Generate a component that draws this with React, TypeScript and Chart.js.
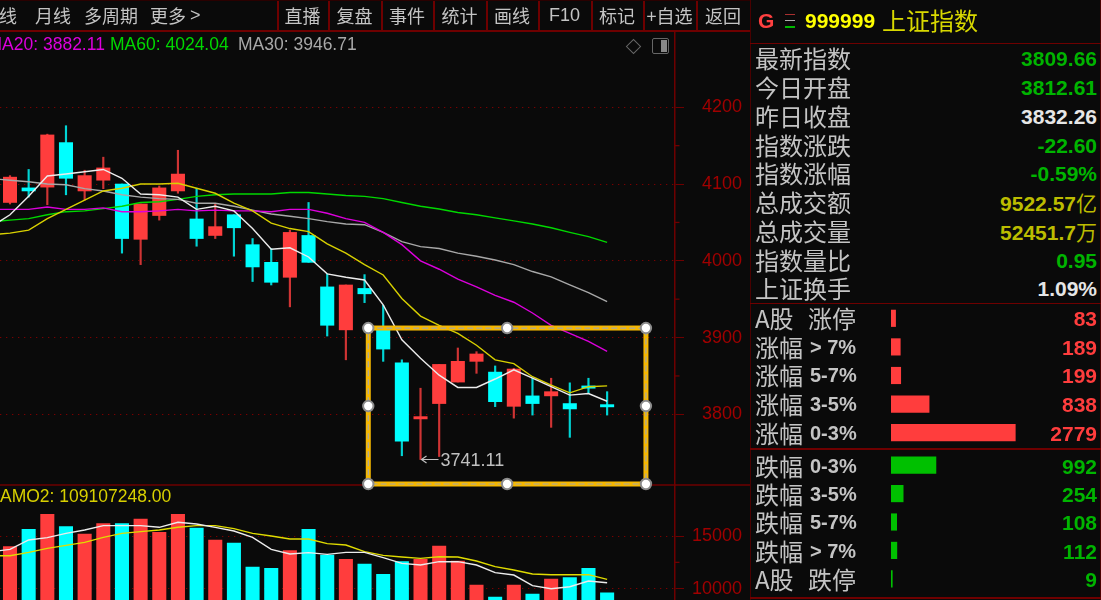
import React, { useEffect, useRef } from "react";
import { Chart, registerables } from "chart.js";

Chart.register(...registerables);

const opens = [4076,4095,4096,4154,4091,4105,4100,4028,4059,4091,4054.5,4033,4060,4021,3998,3978.5,4033,3966,3910,3964,3910,3867,3794,3814,3842,3869,3855,3810.4,3824,3824,3814,3837,3812.61];
const closes = [4109,4091,4164,4107.5,4111,4121,4029,4074,4095,4113,4029,4044.5,4043,3992,3972,4037,3998,3916,3968.5,3957,3885,3765,3797,3865,3869,3878.6,3816.5,3859,3814,3829.5,3807,3834,3809.66];
const highs = [4111,4119,4165,4176,4118,4135,4100,4074,4097.5,4144,4094.5,4074,4060,4029,4016,4040,4076,3983,3968.5,3982,3942,3871,3834,3865,3886.4,3881.6,3863,3860,3847,3847,3841,3847,3829.5];
const lows = [4074,4083,4073,4086,4079,4094,4010,3995,4053,4088,4019,4029,4006,3973,3968.5,3940,3998,3902,3871,3945.5,3869,3746,3741.11,3745,3842,3853.4,3810,3795,3799,3783,3770,3827,3799];
const volumes = [13988,15634,17058,15887,15190,16172,16172,16615,15349,17058,15760,14621,14336,12057,11930,13608,15634,13197,12785,12342,11361,12564,12785,14051,12627,10348,9209,10348,9494,10918,11044,11930,9620];

// moving averages: the first value belongs to the session just left of the window
const ma5 = [4044.5,4060,4084,4110.5,4113,4116,4119,4107.5,4087,4086,4083,4067,4071,4065,4042,4015,4017,4005,3983,3978.5,3975,3942.5,3897,3873,3851,3835,3835,3846,3858,3847,3836,3825,3827,3817];
const ma10 = [4034,4036,4040,4055,4067,4079,4091,4094.5,4100,4100,4101,4094.5,4088,4075,4065,4049,4042,4038,4022,4010,3995,3981.5,3951,3928,3916,3905.5,3890,3871,3866,3849,3838,3828,3836,3837];
const ma20 = [4067,4067,4067,4070,4067,4067,4069,4064,4064,4065,4067,4065,4066,4065,4065,4064,4067,4067,4062,4055,4050,4037,4021,4000,3989,3976,3966,3955,3946,3932,3916,3905.5,3895,3882.11];
const ma30 = [4107,4105,4103,4100,4099,4094,4091,4086,4083,4081,4080,4075,4075,4071,4066,4061,4058,4055,4051,4048,4047,4037,4025,4018.5,4016,4010,4006,4001,3995,3986,3979,3968.5,3958.5,3946.71];
const ma60 = [4051,4053,4055,4060,4064,4065,4068,4071,4076,4077,4080,4084,4086,4087,4087,4087,4089,4089,4087,4085,4084,4081,4076,4071,4067.5,4063,4060,4056,4052,4048,4043,4037,4031.5,4024.04];
const volMaWhite = [13513,13735,14621,14842,15254,15570,15982,15982,15982,15824,16298,16140,15824,15475,14874,13735,13292,13418,13260,13450,13450,12943,12405,12247,12564,12564,12247,11519,11298,10285,10000,10190,10728,10570];
const volMaYellow = [13133,13133,13450,13830,14115,14399,14874,15254,15412,15570,15824,15982,15982,15697,15254,15000,14716,14716,14273,14146,13513,13165,13007,12880,13038,13007,12627,12089,11772,11393,11329,11329,11329,10886];

const priceTicks = [4200, 4150, 4100, 4050, 4000, 3950, 3900, 3850, 3800];
const volumeTicks = [15000, 12500, 10000];
const priceMajor = 100;
const volumeMajor = 5000;

const toolbarLeft = [["线", -1], ["月线", 35], ["多周期", 84], ["更多", 150]] as const;
const toolbarButtons = ["直播", "复盘", "事件", "统计", "画线", "F10", "标记", "+自选", "返回"];
const toolbarEdges = [277, 328, 381, 433, 486, 538, 591, 643, 696, 750];

const quoteLabels = ["最新指数", "今日开盘", "昨日收盘", "指数涨跌", "指数涨幅", "总成交额", "总成交量", "指数量比", "上证换手"];
const quoteValues = ["3809.66", "3812.61", "3832.26", "-22.60", "-0.59%", "9522.57亿", "52451.7万", "0.95", "1.09%"];
const quoteColors = ["#00b400", "#00b400", "#e6e6e6", "#00b400", "#00b400", "#bcbc00", "#bcbc00", "#00b400", "#e6e6e6"];
const quoteRows = [58, 87, 116, 145, 173, 202, 231, 260, 288];

const upLabels = [["A股", "涨停"], ["涨幅", "> 7%"], ["涨幅", "5-7%"], ["涨幅", "3-5%"], ["涨幅", "0-3%"]];
const upCounts = [83, 189, 199, 838, 2779];
const upRows = [318, 347, 375, 404, 433];
const downLabels = [["跌幅", "0-3%"], ["跌幅", "3-5%"], ["跌幅", "5-7%"], ["跌幅", "> 7%"], ["A股", "跌停"]];
const downCounts = [992, 254, 108, 112, 9];
const downRows = [466, 494, 522, 551, 579];

const lowLabel = "3741.11";
const lowSession = 22;
const lowPrice = 3741.11;
const boxSessions = [19.2, 34.08];
const boxPrices = [3912.4, 3709.2];

const RED = "#ff3d3d";
const RED_WICK = "#cf3434";
const CYAN = "#00ffff";
const CYAN_WICK = "#00d4d4";
const BG = "#0a0a0a";
const AXIS = "#6e0000";
const TICK_TEXT = "#a00000";
const GRID = "#7a0000";
const CJK = '"Noto Sans CJK SC", sans-serif';
const LAT = '"Liberation Sans", sans-serif';

const sessions = opens.map((_, i) => i);
const isUp = opens.map((o, i) => closes[i] > o);
const pts = (arr: number[]) => arr.map((y, i) => ({ x: i - 1, y }));
const line = (data: number[], color: string, yAxisID: string) => ({
  type: "line" as const,
  data: pts(data),
  borderColor: color,
  borderWidth: 1.4,
  pointRadius: 0,
  tension: 0,
  yAxisID,
  order: 0,
});

const overlay = {
  id: "overlay",
  afterDatasetsDraw(chart: any) {
    const { ctx, scales } = chart;
    const { x, y, v } = scales;
    ctx.save();
    // panel divider
    ctx.strokeStyle = AXIS;
    ctx.lineWidth = 1.5;
    ctx.beginPath();
    ctx.moveTo(0, y.bottom);
    ctx.lineTo(chart.width, y.bottom);
    ctx.stroke();

    // short half-step ticks
    ctx.lineWidth = 1.3;
    const shortTick = (s: any, val: number) => {
      const p = s.getPixelForValue(val);
      ctx.beginPath();
      ctx.moveTo(chart.chartArea.right, p);
      ctx.lineTo(chart.chartArea.right + 4.5, p);
      ctx.stroke();
    };
    priceTicks.filter((t) => t % priceMajor !== 0).forEach((t) => shortTick(y, t));
    volumeTicks.filter((t) => t % volumeMajor !== 0).forEach((t) => shortTick(v, t));

    // low marker
    const lx = x.getPixelForValue(lowSession);
    const ly = y.getPixelForValue(lowPrice);
    ctx.strokeStyle = "#c0c0c0";
    ctx.lineWidth = 1.2;
    ctx.beginPath();
    ctx.moveTo(lx + 1, ly);
    ctx.lineTo(lx + 18, ly);
    ctx.moveTo(lx + 6, ly - 3.5);
    ctx.lineTo(lx + 1, ly);
    ctx.lineTo(lx + 6, ly + 3.5);
    ctx.stroke();
    ctx.fillStyle = "#c0c0c0";
    ctx.font = `18px ${LAT}`;
    ctx.textAlign = "left";
    ctx.textBaseline = "middle";
    ctx.fillText(lowLabel, lx + 20, ly + 2);

    // selection rectangle
    const l = x.getPixelForValue(boxSessions[0]);
    const r = x.getPixelForValue(boxSessions[1]);
    const t = y.getPixelForValue(boxPrices[0]);
    const b = y.getPixelForValue(boxPrices[1]);
    ctx.strokeStyle = "#f6b800";
    ctx.lineWidth = 5;
    ctx.strokeRect(l, t, r - l, b - t);
    ctx.strokeStyle = "#a8a8a0";
    ctx.lineWidth = 1.2;
    ctx.setLineDash([6, 3]);
    ctx.strokeRect(l, t, r - l, b - t);
    ctx.setLineDash([]);
    const mx = (l + r) / 2;
    const my = (t + b) / 2;
    [[l, t], [mx, t], [r, t], [l, my], [r, my], [l, b], [mx, b], [r, b]].forEach(([hx, hy]) => {
      ctx.beginPath();
      ctx.arc(hx, hy, 5.2, 0, Math.PI * 2);
      ctx.fillStyle = "#ffffff";
      ctx.fill();
      ctx.strokeStyle = "#8c8c8c";
      ctx.lineWidth = 2;
      ctx.stroke();
    });
    ctx.restore();
  },
};

const yAxis = (min: number, max: number, tickValues: number[], major: number, weight: number, stackWeight: number) => {
  const majors = tickValues.filter((t) => t % major === 0);
  return {
    type: "linear" as const,
    position: "right" as const,
    stack: "panels",
    stackWeight,
    weight,
    min,
    max,
    afterFit: (s: any) => { s.width = 67; s.paddingTop = 0; s.paddingBottom = 0; },
    afterBuildTicks: (s: any) => { s.ticks = majors.map((value) => ({ value })); },
    grid: {
      color: GRID,
      tickColor: AXIS,
      tickLength: 9,
      tickBorderDash: [],
      lineWidth: 1,
    },
    border: { color: AXIS, width: 1.5, dash: [1.3, 4.7] },
    ticks: {
      autoSkip: false,
      crossAlign: "far" as const,
      padding: 0,
      color: TICK_TEXT,
      font: { family: "Liberation Sans", size: 18 },
      callback: (v: any) => String(v),
    },
  };
};

function Txt({ x, cy, right, size, color, font, bold, children, spacing }: any) {
  const h = size + 8;
  const st: React.CSSProperties = {
    position: "absolute",
    top: cy - h / 2,
    height: h,
    lineHeight: `${h}px`,
    fontSize: size,
    color,
    fontFamily: font,
    fontWeight: bold ? 700 : 400,
    whiteSpace: "nowrap",
    letterSpacing: spacing,
  };
  if (right !== undefined) st.right = 1101 - right;
  else st.left = x;
  return <div style={st}>{children}</div>;
}

function Rule({ x, y, w, h, color = AXIS }: any) {
  return <div style={{ position: "absolute", left: x, top: y, width: w, height: h, background: color }} />;
}

function hBars(canvas: HTMLCanvasElement, counts: number[], color: string, labels: string[]) {
  return new Chart(canvas, {
    type: "bar",
    data: { labels, datasets: [{ data: counts, backgroundColor: color, base: -20, barThickness: 16.5 } as any] },
    options: {
      animation: false,
      responsive: false,
      indexAxis: "y",
      layout: { padding: 0 },
      plugins: { legend: { display: false }, tooltip: { enabled: false } },
      scales: {
        x: { display: false, min: -20, max: 3020 },
        y: { display: false },
      },
    },
  });
}

export default function App() {
  const mainRef = useRef<HTMLCanvasElement>(null);
  const upRef = useRef<HTMLCanvasElement>(null);
  const downRef = useRef<HTMLCanvasElement>(null);

  useEffect(() => {
    const main = new Chart(mainRef.current!, {
      type: "bar",
      data: {
        datasets: [
          line(ma5, "#ececec", "y"),
          line(ma10, "#d8d000", "y"),
          line(ma20, "#dc00dc", "y"),
          line(ma30, "#a8a8a8", "y"),
          line(ma60, "#00d800", "y"),
          line(volMaWhite, "#ececec", "v"),
          line(volMaYellow, "#e0dc00", "v"),
          {
            type: "bar",
            data: sessions.map((i) => ({ x: i, y: [opens[i], closes[i]] })),
            backgroundColor: isUp.map((u) => (u ? RED : CYAN)),
            barThickness: 13.4,
            grouped: false,
            yAxisID: "y",
            order: 1,
          },
          {
            type: "bar",
            data: sessions.map((i) => ({ x: i, y: [lows[i], highs[i]] })),
            backgroundColor: isUp.map((u) => (u ? RED_WICK : CYAN_WICK)),
            barThickness: 1.5,
            grouped: false,
            yAxisID: "y",
            order: 2,
          },
          {
            type: "bar",
            data: sessions.map((i) => ({ x: i, y: volumes[i] })),
            backgroundColor: isUp.map((u) => (u ? RED : CYAN)),
            barThickness: 13.4,
            grouped: false,
            yAxisID: "v",
            order: 1,
          },
        ] as any,
      },
      options: {
        animation: false,
        responsive: false,
        layout: { padding: { top: 31, left: 0, right: 9, bottom: 0 } },
        plugins: { legend: { display: false }, tooltip: { enabled: false } },
        scales: {
          x: { type: "linear", display: false, offset: false, min: -10 / 18.66, max: 665 / 18.66 },
          y: yAxis(3707.9, 4299.4, priceTicks, priceMajor, 0, 454),
          v: yAxis(8928, 19839, volumeTicks, volumeMajor, 1, 115),
        } as any,
      },
      plugins: [overlay],
    });
    const up = hBars(upRef.current!, upCounts, "#ff3d3d", upLabels.map((l) => l.join(" ")));
    const down = hBars(downRef.current!, downCounts, "#00c000", downLabels.map((l) => l.join(" ")));
    return () => {
      main.destroy();
      up.destroy();
      down.destroy();
    };
  }, []);

  return (
    <div style={{ position: "fixed", left: 0, top: 0, width: 1101, height: 600, background: BG, overflow: "hidden" }}>
      <canvas ref={mainRef} width={751} height={600} style={{ position: "absolute", left: 0, top: 0, width: 751, height: 600 }} />
      <canvas ref={upRef} width={135} height={143} style={{ position: "absolute", left: 891, top: 304, width: 135, height: 143 }} />
      <canvas ref={downRef} width={135} height={142} style={{ position: "absolute", left: 891, top: 451, width: 135, height: 142 }} />

      {/* toolbar */}
      <Rule x={0} y={0} w={750} h={1} color="#2a0000" />
      <Rule x={0} y={30} w={750} h={1.5} />
      {toolbarLeft.map(([t, x]) => (
        <Txt key={t} x={x} cy={15} size={18} color="#c4c4c4" font={CJK}>{t}</Txt>
      ))}
      <Txt x={190} cy={15} size={18} color="#c4c4c4" font={LAT}>{">"}</Txt>
      {toolbarEdges.slice(0, 9).map((x) => (
        <Rule key={x} x={x} y={1} w={1.5} h={29} />
      ))}
      {toolbarButtons.map((t, i) => (
        <div key={t} style={{ position: "absolute", left: toolbarEdges[i], width: toolbarEdges[i + 1] - toolbarEdges[i], top: 0, height: 30, lineHeight: "30px", textAlign: "center", fontSize: 18, color: "#c4c4c4", fontFamily: t === "F10" ? LAT : CJK, whiteSpace: "nowrap" }}>{t}</div>
      ))}

      {/* indicator titles */}
      <Txt x={-12.5} cy={44.5} size={17.5} color="#dc00dc" font={LAT}>MA20: 3882.11</Txt>
      <Txt x={110} cy={44.5} size={17.5} color="#00d800" font={LAT}>MA60: 4024.04</Txt>
      <Txt x={238} cy={44.5} size={17.5} color="#a8a8a8" font={LAT}>MA30: 3946.71</Txt>
      <Txt x={0} cy={497} size={17.5} color="#d8d000" font={LAT}>AMO2: 109107248.00</Txt>

      {/* chart icons */}
      <div style={{ position: "absolute", left: 628, top: 41, width: 9, height: 9, border: "1px solid #666", transform: "rotate(45deg)" }} />
      <div style={{ position: "absolute", left: 652, top: 38, width: 15, height: 14, border: "1.5px solid #666", borderRadius: 2 }}>
        <div style={{ position: "absolute", right: 1, top: 1, width: 6, height: 12, background: "#888" }} />
      </div>

      {/* right panel */}
      <Rule x={750} y={0} w={1} h={600} color="#4a0000" />
      <Rule x={1100} y={0} w={1} h={600} color="#4a0000" />
      <Rule x={750} y={42.5} w={351} h={1.5} />
      <Rule x={750} y={302.5} w={351} h={1.5} />
      <Rule x={750} y={448} w={351} h={1.5} />
      <Rule x={750} y={597} w={351} h={1.5} />
      <Txt x={758} cy={20} size={21} color="#ff4040" font={LAT} bold>G</Txt>
      <Rule x={785} y={14} w={10} h={1} color="#a83030" />
      <Rule x={785} y={20} w={10} h={1} color="#b0b0b0" />
      <Rule x={785} y={26} w={10} h={1.5} color="#00b800" />
      <Txt x={805} cy={20} size={21} color="#ffff00" font={LAT} bold>999999</Txt>
      <Txt x={882} cy={20} size={24} color="#d8d800" font={CJK}>上证指数</Txt>
      {quoteLabels.map((t, i) => (
        <Txt key={t} x={755} cy={quoteRows[i]} size={24} color="#c4c4c4" font={CJK}>{t}</Txt>
      ))}
      {quoteValues.map((t, i) => {
        const unit = /[亿万]$/.test(t) ? t.slice(-1) : "";
        const num = unit ? t.slice(0, -1) : t;
        return (
          <Txt key={t} right={1097} cy={quoteRows[i]} size={21} color={quoteColors[i]} font={LAT} bold>
            {num}
            {unit && <span style={{ fontFamily: CJK, fontWeight: 400 }}>{unit}</span>}
          </Txt>
        );
      })}
      {[...upLabels.map((l, i) => ({ l, cy: upRows[i], v: upCounts[i], c: "#ff3d3d" })), ...downLabels.map((l, i) => ({ l, cy: downRows[i], v: downCounts[i], c: "#00b400" }))].map(({ l, cy, v, c }) => (
        <React.Fragment key={l.join() + v}>
          <Txt x={755} cy={cy} size={24} color="#c4c4c4" font={CJK}>{l[0]}</Txt>
          {/[%]/.test(l[1])
            ? <Txt x={810} cy={cy} size={20} color="#c4c4c4" font={LAT} bold>{l[1]}</Txt>
            : <Txt x={808} cy={cy} size={24} color="#c4c4c4" font={CJK}>{l[1]}</Txt>}
          <Txt right={1097} cy={cy} size={21} color={c} font={LAT} bold>{v}</Txt>
        </React.Fragment>
      ))}
    </div>
  );
}
